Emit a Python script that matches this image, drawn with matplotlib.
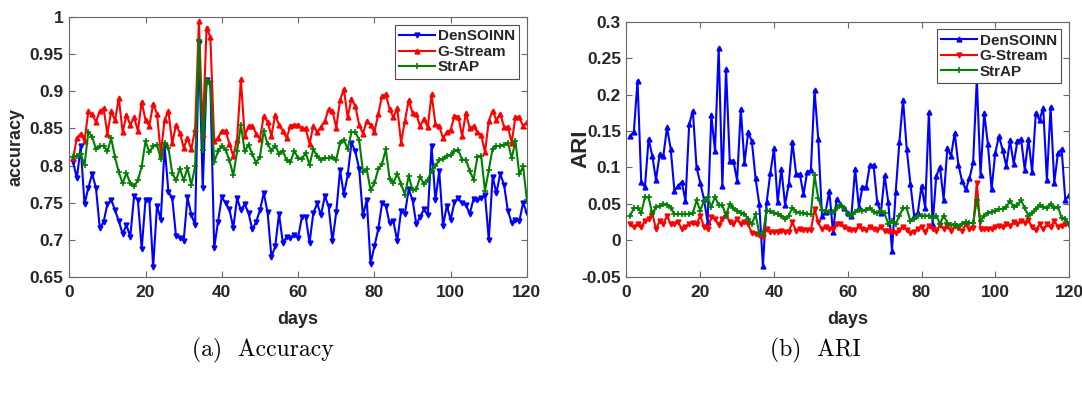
import matplotlib
matplotlib.use("Agg")
import matplotlib.pyplot as plt
from matplotlib.ticker import FuncFormatter
import numpy as np

days = np.arange(1, 121)

# (a) accuracy
acc_densoinn = [0.805, 0.783, 0.826, 0.748, 0.770, 0.789, 0.770, 0.716, 0.724, 0.748,
                0.754, 0.740, 0.725, 0.708, 0.720, 0.704, 0.759, 0.753, 0.688, 0.754,
                0.753, 0.663, 0.746, 0.727, 0.826, 0.765, 0.756, 0.705, 0.703, 0.699,
                0.757, 0.734, 0.720, 0.965, 0.770, 0.915, 0.911, 0.689, 0.724, 0.758,
                0.749, 0.741, 0.716, 0.756, 0.740, 0.748, 0.736, 0.714, 0.724, 0.740,
                0.763, 0.737, 0.677, 0.691, 0.735, 0.696, 0.704, 0.702, 0.706, 0.703,
                0.731, 0.731, 0.696, 0.736, 0.749, 0.733, 0.759, 0.745, 0.698, 0.737,
                0.794, 0.761, 0.787, 0.831, 0.819, 0.796, 0.732, 0.754, 0.668, 0.691,
                0.714, 0.749, 0.746, 0.722, 0.725, 0.698, 0.739, 0.735, 0.768, 0.754,
                0.721, 0.731, 0.741, 0.733, 0.827, 0.753, 0.793, 0.719, 0.746, 0.727,
                0.751, 0.756, 0.749, 0.747, 0.735, 0.755, 0.753, 0.756, 0.761, 0.700,
                0.785, 0.763, 0.789, 0.774, 0.739, 0.723, 0.727, 0.725, 0.750, 0.736]
acc_gstream = [0.810, 0.837, 0.843, 0.833, 0.873, 0.869, 0.859, 0.873, 0.877, 0.843,
               0.873, 0.861, 0.891, 0.845, 0.868, 0.855, 0.865, 0.847, 0.886, 0.861,
               0.854, 0.883, 0.870, 0.816, 0.862, 0.873, 0.830, 0.855, 0.844, 0.824,
               0.837, 0.822, 0.849, 0.995, 0.843, 0.986, 0.973, 0.833, 0.837, 0.847,
               0.847, 0.829, 0.813, 0.835, 0.916, 0.840, 0.853, 0.854, 0.843, 0.836,
               0.867, 0.859, 0.840, 0.868, 0.855, 0.847, 0.837, 0.854, 0.855, 0.855,
               0.850, 0.850, 0.829, 0.854, 0.845, 0.852, 0.860, 0.876, 0.874, 0.851,
               0.888, 0.903, 0.865, 0.890, 0.880, 0.855, 0.843, 0.860, 0.855, 0.845,
               0.869, 0.894, 0.896, 0.876, 0.865, 0.877, 0.831, 0.860, 0.888, 0.871,
               0.869, 0.853, 0.863, 0.852, 0.896, 0.856, 0.853, 0.837, 0.845, 0.848,
               0.867, 0.866, 0.840, 0.871, 0.850, 0.853, 0.845, 0.841, 0.818, 0.860,
               0.874, 0.861, 0.870, 0.852, 0.852, 0.831, 0.866, 0.865, 0.853, 0.859]
acc_strap = [0.812, 0.813, 0.815, 0.801, 0.845, 0.839, 0.822, 0.826, 0.827, 0.819,
             0.837, 0.811, 0.791, 0.776, 0.790, 0.776, 0.772, 0.780, 0.799, 0.833,
             0.818, 0.826, 0.828, 0.809, 0.831, 0.824, 0.790, 0.780, 0.796, 0.780,
             0.797, 0.774, 0.799, 0.969, 0.821, 0.915, 0.910, 0.805, 0.819, 0.827,
             0.821, 0.807, 0.787, 0.819, 0.855, 0.819, 0.828, 0.815, 0.804, 0.812,
             0.847, 0.829, 0.820, 0.827, 0.816, 0.820, 0.807, 0.805, 0.820, 0.810,
             0.809, 0.817, 0.801, 0.822, 0.813, 0.808, 0.810, 0.810, 0.811, 0.808,
             0.831, 0.835, 0.822, 0.845, 0.845, 0.835, 0.792, 0.795, 0.767, 0.776,
             0.795, 0.802, 0.822, 0.782, 0.777, 0.789, 0.775, 0.761, 0.786, 0.767,
             0.768, 0.785, 0.775, 0.781, 0.793, 0.799, 0.808, 0.809, 0.813, 0.814,
             0.820, 0.821, 0.808, 0.808, 0.793, 0.781, 0.811, 0.813, 0.766, 0.794,
             0.823, 0.826, 0.827, 0.828, 0.831, 0.810, 0.833, 0.788, 0.799, 0.753]

# (b) ARI
ari_densoinn = [0.143, 0.149, 0.219, 0.080, 0.073, 0.139, 0.116, 0.083, 0.118, 0.116,
                0.155, 0.125, 0.068, 0.075, 0.080, 0.054, 0.159, 0.178, 0.100, 0.079,
                0.057, 0.025, 0.172, 0.123, 0.264, 0.074, 0.235, 0.109, 0.109, 0.082,
                0.180, 0.106, 0.148, 0.136, 0.085, 0.050, -0.035, 0.052, 0.092, 0.126,
                0.052, 0.098, 0.049, 0.077, 0.135, 0.091, 0.091, 0.063, 0.094, 0.096,
                0.206, 0.139, 0.034, 0.039, 0.068, 0.011, 0.057, 0.050, 0.045, 0.038,
                0.034, 0.098, 0.046, 0.073, 0.073, 0.103, 0.103, 0.052, 0.038, 0.089,
                0.052, -0.014, 0.066, 0.135, 0.193, 0.125, 0.077, 0.034, 0.038, 0.075,
                0.045, 0.176, 0.021, 0.088, 0.101, 0.056, 0.126, 0.116, 0.147, 0.104,
                0.081, 0.070, 0.085, 0.107, 0.221, 0.090, 0.175, 0.132, 0.070, 0.120,
                0.143, 0.124, 0.102, 0.137, 0.105, 0.136, 0.139, 0.097, 0.139, 0.094,
                0.175, 0.165, 0.182, 0.083, 0.183, 0.079, 0.120, 0.125, 0.055, 0.062]
ari_gstream = [0.022, 0.018, 0.022, 0.018, 0.027, 0.029, 0.038, 0.015, 0.027, 0.023,
               0.034, 0.022, 0.023, 0.025, 0.016, 0.018, 0.023, 0.024, 0.022, 0.034,
               0.019, 0.015, 0.032, 0.030, 0.021, 0.030, 0.036, 0.025, 0.023, 0.030,
               0.022, 0.025, 0.022, 0.010, 0.009, 0.008, 0.005, 0.015, 0.011, 0.012,
               0.012, 0.013, 0.012, 0.012, 0.025, 0.013, 0.015, 0.014, 0.014, 0.014,
               0.043, 0.025, 0.015, 0.018, 0.016, 0.015, 0.022, 0.023, 0.018, 0.016,
               0.014, 0.014, 0.020, 0.015, 0.014, 0.018, 0.015, 0.014, 0.019, 0.013,
               0.013, 0.012, 0.010, 0.014, 0.019, 0.014, 0.010, 0.012, 0.016, 0.018,
               0.012, 0.020, 0.015, 0.013, 0.021, 0.016, 0.020, 0.013, 0.020, 0.017,
               0.013, 0.022, 0.015, 0.017, 0.079, 0.015, 0.015, 0.015, 0.016, 0.018,
               0.020, 0.018, 0.022, 0.020, 0.025, 0.022, 0.027, 0.024, 0.028, 0.018,
               0.014, 0.022, 0.015, 0.022, 0.018, 0.027, 0.019, 0.020, 0.022, 0.021]
ari_strap = [0.034, 0.044, 0.045, 0.038, 0.059, 0.059, 0.036, 0.046, 0.047, 0.050,
             0.049, 0.045, 0.036, 0.036, 0.036, 0.036, 0.036, 0.037, 0.055, 0.041,
             0.054, 0.059, 0.046, 0.060, 0.048, 0.048, 0.034, 0.050, 0.044, 0.041,
             0.038, 0.036, 0.030, 0.022, 0.036, 0.010, 0.009, 0.041, 0.040, 0.038,
             0.036, 0.034, 0.030, 0.034, 0.045, 0.039, 0.038, 0.037, 0.036, 0.036,
             0.089, 0.058, 0.042, 0.040, 0.039, 0.039, 0.044, 0.049, 0.044, 0.036,
             0.034, 0.039, 0.042, 0.041, 0.042, 0.045, 0.039, 0.037, 0.040, 0.037,
             0.022, 0.027, 0.022, 0.034, 0.044, 0.044, 0.026, 0.030, 0.034, 0.034,
             0.034, 0.034, 0.031, 0.034, 0.023, 0.034, 0.024, 0.021, 0.022, 0.019,
             0.023, 0.025, 0.024, 0.024, 0.056, 0.027, 0.034, 0.038, 0.039, 0.041,
             0.043, 0.043, 0.046, 0.054, 0.046, 0.048, 0.055, 0.044, 0.034, 0.037,
             0.043, 0.048, 0.046, 0.044, 0.050, 0.044, 0.046, 0.031, 0.030, 0.022]

plt.rcParams['font.family'] = ['Liberation Sans', 'DejaVu Sans']
plt.rcParams['font.weight'] = 'bold'
plt.rcParams['text.color'] = '0.15'
plt.rcParams['axes.labelcolor'] = '0.15'
plt.rcParams['xtick.color'] = '0.15'
plt.rcParams['ytick.color'] = '0.15'

fig = plt.figure(figsize=(10.82, 3.99), dpi=100)
ax1 = fig.add_axes([0.064, 0.306, 0.423, 0.651])
ax2 = fig.add_axes([0.579, 0.306, 0.409, 0.640])

green = (0, 0.5, 0)

def style(ax):
    ax.tick_params(direction='in', top=True, right=True, labelsize=12.5, length=4,
                   color='0.4', pad=4)
    ax.tick_params(axis='x', pad=6)
    for s in ax.spines.values():
        s.set_color('0.4')
        s.set_linewidth(0.8)
    ax.set_xlim(0, 120)
    ax.set_xticks(range(0, 121, 20))
    ax.set_xlabel('days', fontsize=13, fontweight='bold', labelpad=8)
    ax.yaxis.set_major_formatter(FuncFormatter(lambda v, p: '%g' % round(v, 4)))
    leg = ax.legend(loc='upper right', fontsize=11, handlelength=2.3, borderpad=0.3,
                    labelspacing=0.1, handletextpad=0.2, fancybox=False, framealpha=1,
                    borderaxespad=0.5)
    leg.get_frame().set_edgecolor('0.3')
    leg.get_frame().set_linewidth(0.8)
    for t in leg.get_texts():
        t.set_fontweight('bold')

ax1.plot(days, acc_densoinn, color='b', marker='v', ms=3.5, lw=1.5, label='DenSOINN')
ax1.plot(days, acc_gstream, color='r', marker='^', ms=3.5, lw=1.5, label='G-Stream')
ax1.plot(days, acc_strap, color=green, marker='+', ms=4, lw=1.5, mew=1.2, label='StrAP')
ax1.set_ylim(0.65, 1)
ax1.set_yticks(np.arange(0.65, 1.001, 0.05))
ax1.set_ylabel('accuracy', fontsize=13, fontweight='bold')
style(ax1)
ax1.yaxis.set_label_coords(-0.097, 0.5)

ax2.plot(days, ari_densoinn, color='b', marker='^', ms=3.5, lw=1.5, label='DenSOINN')
ax2.plot(days, ari_gstream, color='r', marker='v', ms=3.5, lw=1.5, label='G-Stream')
ax2.plot(days, ari_strap, color=green, marker='+', ms=4, lw=1.5, mew=1.2, label='StrAP')
ax2.set_ylim(-0.05, 0.3)
ax2.set_yticks(np.arange(-0.05, 0.301, 0.05))
ax2.set_ylabel('ARI', fontsize=16, fontweight='bold')
style(ax2)
ax2.yaxis.set_label_coords(-0.08, 0.5)

fig.text(0.243, 0.122, '(a)  Accuracy', ha='center', va='center', fontsize=17,
         family='cmr10', fontweight='normal', color='k')
fig.text(0.754, 0.122, '(b)  ARI', ha='center', va='center', fontsize=17,
         family='cmr10', fontweight='normal', color='k')

fig.savefig('out.png', dpi=100)
